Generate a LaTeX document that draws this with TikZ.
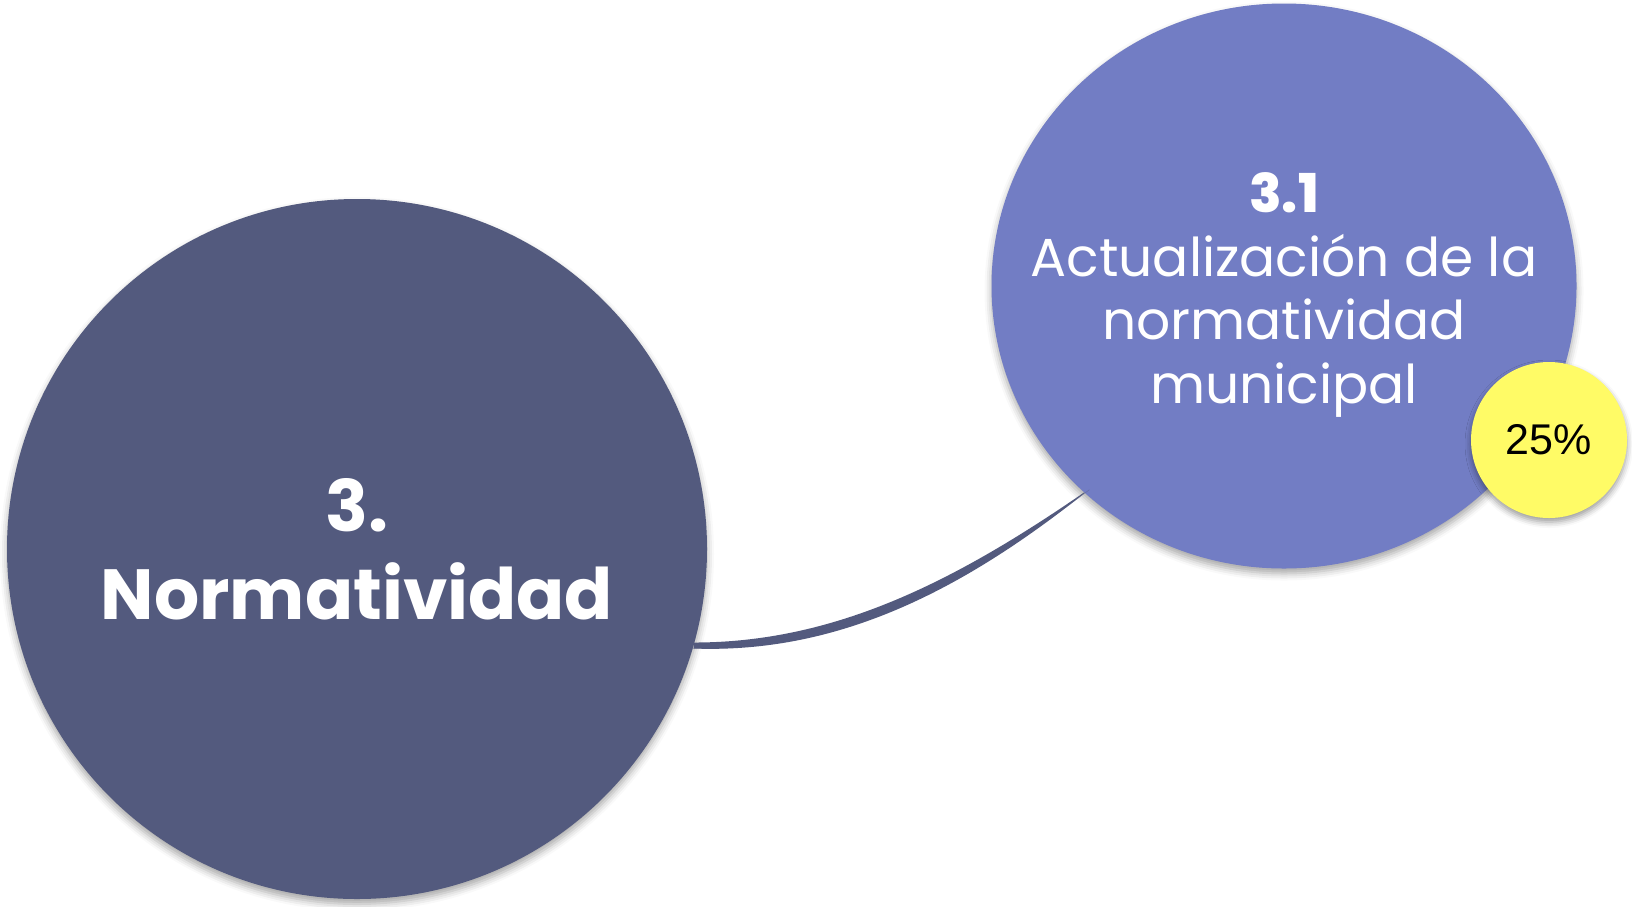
\documentclass[tikz,border=0pt]{standalone}
\usepackage{fontspec}
\setmainfont{Poppins}
\newfontfamily\heavy{Poppins}[UprightFont=* ExtraBold]
\newfontfamily\arialfont{Liberation Sans}
\usetikzlibrary{calc,shadows.blur,shapes.geometric}
\definecolor{darkc}{HTML}{535A7E}
\definecolor{lightc}{HTML}{727DC4}
\definecolor{yel}{HTML}{FFFB66}
\tikzset{
  bubble/.style={inner sep=0pt, align=center, text=white,
    blur shadow={shadow xshift=0pt, shadow yshift=-5pt, shadow blur radius=7pt, shadow opacity=35}},
  badge/.style={circle, inner sep=0pt, fill=yel, text=black, minimum size=156pt,
    blur shadow={shadow xshift=0pt, shadow yshift=-4pt, shadow blur radius=6pt, shadow opacity=40}},
  label/.style={inner sep=0pt, align=center, text=white},
  brush/.style={fill=darkc}
}
\begin{document}
\begin{tikzpicture}[x=1pt,y=-1pt]
\useasboundingbox (0,0) rectangle (1632,906);
\node[bubble, circle, fill=darkc, minimum size=700pt, font=\fontsize{71}{88}\selectfont\bfseries] (big) at (357,549)
  {3.\\ Normatividad};
\node[bubble, ellipse, fill=lightc, minimum width=585pt, minimum height=565pt] (small) at (1284,286) {};
\node[label, font=\fontsize{53.5}{63.8}\selectfont] (smalltext) at (1284,295)
  {{\heavy 3.1}\\ Actualización de la\\ normatividad\\ municipal};
\node[badge, font=\arialfont\fontsize{43}{50}\selectfont] (pct) at (1549,440) {25\%};
\coordinate (s) at (big.-16);
\coordinate (e) at (small.-134.5);
\fill[brush] ($(s)+(0,-3)$) .. controls ($(s)+(138,-3)$) and ($(e)+(-134,92)$) .. ($(e)+(0,-0.5)$)
  -- ($(e)+(0,0.5)$) .. controls ($(e)+(-130,104)$) and ($(s)+(138,8)$) .. ($(s)+(0,3)$) -- cycle;
\draw[darkc, line width=0.5pt, opacity=0.5] ($(s)+(-6,3)$) .. controls ($(s)+(138,6)$) and ($(e)+(-132,101)$) .. ($(e)+(5,-3)$);
\end{tikzpicture}
\end{document}
